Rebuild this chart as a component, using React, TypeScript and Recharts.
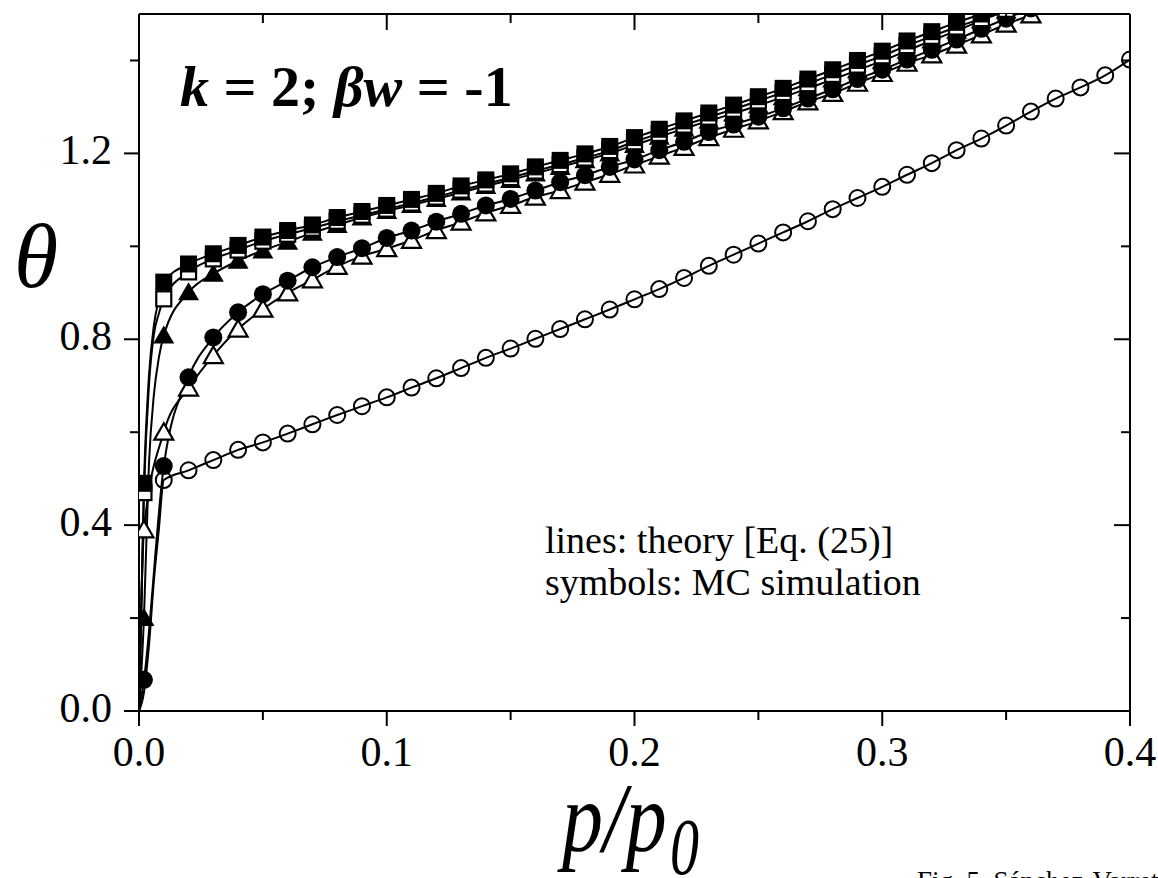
import React from "react";
import { ComposedChart, Line, Scatter, XAxis, YAxis } from "recharts";

const SERIF = '"Liberation Serif", "Times New Roman", serif';

// p/p0 where the MC symbols sit
const P = [
  0.01, 0.02, 0.03, 0.04, 0.05, 0.06, 0.07, 0.08, 0.09, 0.1,
  0.11, 0.12, 0.13, 0.14, 0.15, 0.16, 0.17, 0.18, 0.19, 0.2,
  0.21, 0.22, 0.23, 0.24, 0.25, 0.26, 0.27, 0.28, 0.29, 0.3,
  0.31, 0.32, 0.33, 0.34, 0.35, 0.36, 0.37, 0.38, 0.39, 0.4,
];
const P_LOW = [0, 0.002, 0.004, 0.006, 0.008];

const X_TICKS = [0, 0.05, 0.1, 0.15, 0.2, 0.25, 0.3, 0.35, 0.4];
const Y_TICKS = [0, 0.2, 0.4, 0.6, 0.8, 1.0, 1.2, 1.4];

// filled squares
const sqFilled = [
  0.923, 0.962, 0.984, 1.002, 1.02, 1.034, 1.046, 1.062, 1.075, 1.088,
  1.101, 1.114, 1.13, 1.143, 1.156, 1.171, 1.185, 1.199, 1.215, 1.234,
  1.252, 1.27, 1.287, 1.304, 1.322, 1.34, 1.36, 1.38, 1.4, 1.42,
  1.442, 1.462, 1.482, 1.5, 1.52, 1.54, null, null, null, null,
];
const sqFilledLow = [0, 0.49, 0.72, 0.83, 0.885];

// open squares
const sqOpen = [
  0.887, 0.945, 0.973, 0.992, 1.011, 1.026, 1.039, 1.054, 1.067, 1.08,
  1.093, 1.106, 1.121, 1.134, 1.148, 1.162, 1.176, 1.19, 1.206, 1.225,
  1.243, 1.261, 1.278, 1.295, 1.313, 1.331, 1.35, 1.37, 1.39, 1.41,
  1.432, 1.452, 1.472, 1.49, 1.51, 1.53, null, null, null, null,
];
const sqOpenLow = [0, 0.47, 0.7, 0.81, 0.855];

// filled triangles
const triFilled = [
  0.808, 0.901, 0.941, 0.969, 0.991, 1.01, 1.029, 1.046, 1.062, 1.076,
  1.089, 1.102, 1.116, 1.13, 1.143, 1.157, 1.171, 1.185, 1.2, 1.218,
  1.236, 1.253, 1.27, 1.286, 1.303, 1.321, 1.34, 1.359, 1.379, 1.399,
  1.421, 1.443, 1.464, 1.486, 1.507, 1.53, null, null, null, null,
];
const triFilledLow = [0, 0.2, 0.53, 0.68, 0.76];

// filled circles
const cirFilled = [
  0.527, 0.718, 0.804, 0.858, 0.897, 0.926, 0.955, 0.977, 0.996, 1.018,
  1.034, 1.053, 1.07, 1.088, 1.102, 1.12, 1.138, 1.153, 1.171, 1.187,
  1.207, 1.225, 1.246, 1.262, 1.279, 1.297, 1.318, 1.338, 1.36, 1.38,
  1.402, 1.423, 1.445, 1.468, 1.49, 1.512, null, null, null, null,
];
const cirFilledLow = [0, 0.067, null, null, null];

// open triangles
const triOpen = [
  0.6, 0.695, 0.765, 0.822, 0.865, 0.9, 0.928, 0.957, 0.979, 0.995,
  1.013, 1.034, 1.052, 1.072, 1.088, 1.106, 1.12, 1.138, 1.155, 1.175,
  1.194, 1.213, 1.234, 1.252, 1.27, 1.29, 1.311, 1.329, 1.351, 1.372,
  1.394, 1.412, 1.433, 1.455, 1.478, 1.498, 1.52, null, null, null,
];
const triOpenLow = [0, 0.39, null, null, null];

// open circles
const cirOpen = [
  0.497, 0.518, 0.54, 0.562, 0.578, 0.597, 0.617, 0.637, 0.656, 0.675,
  0.696, 0.716, 0.738, 0.76, 0.78, 0.801, 0.822, 0.843, 0.864, 0.886,
  0.908, 0.932, 0.958, 0.982, 1.006, 1.03, 1.054, 1.08, 1.104, 1.128,
  1.154, 1.179, 1.207, 1.232, 1.26, 1.29, 1.318, 1.342, 1.368, 1.402,
];
const cirOpenLow = [0, 0.04, 0.14, 0.28, 0.39];

const toPts = (xs, ys) =>
  xs.map((x, i) => ({ x, y: ys[i] })).filter((d) => d.y != null);

// draw order: later ones sit on top
const SERIES = [
  { kind: "triO", vals: triOpen, low: triOpenLow, markLow: true },
  { kind: "cirF", vals: cirFilled, low: cirFilledLow, markLow: true },
  { kind: "triF", vals: triFilled, low: triFilledLow, markLow: true },
  { kind: "sqO", vals: sqOpen, low: sqOpenLow, markLow: true },
  { kind: "sqF", vals: sqFilled, low: sqFilledLow, markLow: true },
  { kind: "cirO", vals: cirOpen, low: cirOpenLow, markLow: false },
];

const Marker = ({ cx, cy, kind }) => {
  if (cx == null || cy == null) return null;
  switch (kind) {
    case "sqF":
      return <rect x={cx - 8.5} y={cy - 8.5} width={17} height={17} fill="#000" />;
    case "sqO":
      return (
        <rect x={cx - 7.5} y={cy - 7.5} width={15} height={15}
          fill="#fff" stroke="#000" strokeWidth={2.2} />
      );
    case "triF":
      return (
        <polygon fill="#000"
          points={`${cx},${cy - 10} ${cx - 10.5},${cy + 8} ${cx + 10.5},${cy + 8}`} />
      );
    case "triO":
      return (
        <polygon fill="#fff" stroke="#000" strokeWidth={2.2}
          points={`${cx},${cy - 9} ${cx - 9.5},${cy + 7.5} ${cx + 9.5},${cy + 7.5}`} />
      );
    case "cirF":
      return <circle cx={cx} cy={cy} r={9} fill="#000" />;
    default:
      return <circle cx={cx} cy={cy} r={8} fill="none" stroke="#000" strokeWidth={2} />;
  }
};

const isMajor = (v, step) => Math.abs(v / step - Math.round(v / step)) < 1e-6;

const BottomTick = ({ x, y, payload }) => {
  const major = isMajor(payload.value, 0.1);
  return (
    <g>
      <line x1={x} y1={y} x2={x} y2={y + (major ? 15 : 9)} stroke="#000" strokeWidth={2} />
      {major && (
        <text x={x} y={y + 55} textAnchor="middle" fontSize={42} fontFamily={SERIF} fill="#000">
          {payload.value.toFixed(1)}
        </text>
      )}
    </g>
  );
};

const TopTick = ({ x, y, payload }) => {
  const major = isMajor(payload.value, 0.1);
  return <line x1={x} y1={y} x2={x} y2={y + (major ? 16 : 9)} stroke="#000" strokeWidth={2} />;
};

const LeftTick = ({ x, y, payload }) => {
  const major = isMajor(payload.value, 0.4);
  return (
    <g>
      <line x1={x - (major ? 15 : 9)} y1={y} x2={x} y2={y} stroke="#000" strokeWidth={2} />
      {major && (
        <text x={x - 27} y={y + 11} textAnchor="end" fontSize={42} fontFamily={SERIF} fill="#000">
          {payload.value.toFixed(1)}
        </text>
      )}
    </g>
  );
};

const RightTick = ({ x, y, payload }) => {
  const major = isMajor(payload.value, 0.4);
  return <line x1={x - (major ? 16 : 9)} y1={y} x2={x} y2={y} stroke="#000" strokeWidth={2} />;
};

const axisLine = { stroke: "#000", strokeWidth: 2 };

export default function App() {
  return (
    <div style={{ position: "absolute", left: 0, top: 0, width: 1158, height: 878 }}>
      <ComposedChart width={1158} height={878} margin={{ top: 4, right: 18, left: 79, bottom: 107 }}>
        <XAxis xAxisId="b" type="number" dataKey="x" domain={[0, 0.4]} ticks={X_TICKS}
          allowDataOverflow interval={0} height={60} tickSize={0} tickMargin={0}
          axisLine={axisLine} tickLine={false} tick={<BottomTick />} />
        <XAxis xAxisId="t" orientation="top" type="number" dataKey="x" domain={[0, 0.4]}
          ticks={X_TICKS} allowDataOverflow interval={0} height={10} tickSize={0} tickMargin={0}
          axisLine={axisLine} tickLine={false} tick={<TopTick />} />
        <YAxis yAxisId="l" type="number" dataKey="y" domain={[0, 1.5]} ticks={Y_TICKS}
          allowDataOverflow interval={0} width={60} tickSize={0} tickMargin={0}
          axisLine={axisLine} tickLine={false} tick={<LeftTick />} />
        <YAxis yAxisId="r" orientation="right" type="number" dataKey="y" domain={[0, 1.5]}
          ticks={Y_TICKS} allowDataOverflow interval={0} width={10} tickSize={0} tickMargin={0}
          axisLine={axisLine} tickLine={false} tick={<RightTick />} />

        {SERIES.map((s) => (
          <Scatter key={"m" + s.kind} xAxisId="b" yAxisId="l" isAnimationActive={false}
            data={[
              ...(s.markLow ? [{ x: P_LOW[1], y: s.low[1] }] : []),
              ...toPts(P, s.vals),
            ]}
            shape={(props) => <Marker cx={props.cx} cy={props.cy} kind={s.kind} />} />
        ))}
        {SERIES.map((s) => (
          <Line key={"l" + s.kind} xAxisId="b" yAxisId="l" type="monotone" dataKey="y"
            data={[...toPts(P_LOW, s.low), ...toPts(P, s.vals)]}
            stroke="#000" strokeWidth={2} dot={false} activeDot={false}
            isAnimationActive={false} />
        ))}
      </ComposedChart>

      <svg width={1158} height={878}
        style={{ position: "absolute", left: 0, top: 0, pointerEvents: "none" }}
        fontFamily={SERIF}>
        <text x={180} y={106} fontSize={58} fontWeight="bold" fill="#000">
          <tspan fontStyle="italic">k</tspan>
          {" = 2; "}
          <tspan fontStyle="italic">βw</tspan>
          {" = -1"}
        </text>
        <text x={36} y={287} fontSize={90} fontStyle="italic" textAnchor="middle" fill="#000">θ</text>
        <text transform="translate(562,851) scale(1,1.2)" fontSize={82} fontStyle="italic" fill="#000">
          p/p
        </text>
        <text transform="translate(670,874) scale(1,1.4)" fontSize={58} fontStyle="italic" fill="#000">
          0
        </text>
        <text x={545} y={553} fontSize={38} fill="#000">lines: theory [Eq. (25)]</text>
        <text x={545} y={595} fontSize={38} fill="#000">symbols: MC simulation</text>
        <text x={917} y={890} fontSize={27} fill="#000">Fig. 5. Sánchez-Varretti et al.</text>
      </svg>
    </div>
  );
}
